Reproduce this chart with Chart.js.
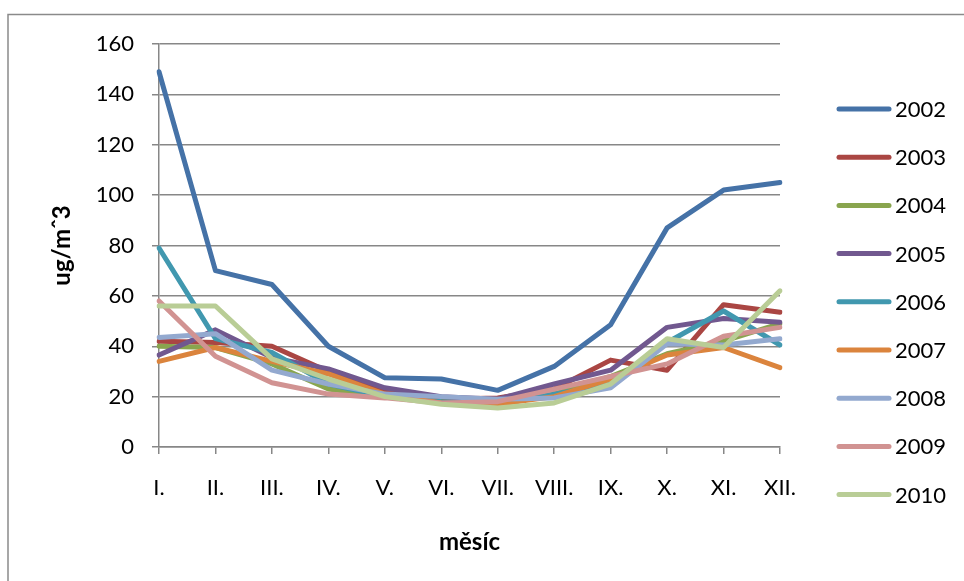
<!DOCTYPE html>
<html>
<head>
<meta charset="utf-8">
<script src="https://cdn.jsdelivr.net/npm/chart.js@4.4.1/dist/chart.umd.min.js"></script>
<style>
  html, body { margin: 0; padding: 0; background: #fff; }
  canvas { display: block; }
</style>
</head>
<body>
<canvas id="chart" width="964" height="581"></canvas>
<script>
var months = ["I.", "II.", "III.", "IV.", "V.", "VI.", "VII.", "VIII.", "IX.", "X.", "XI.", "XII."];
var years = ["2002", "2003", "2004", "2005", "2006", "2007", "2008", "2009", "2010"];

var y2002 = [149, 70, 64.5, 40, 27.5, 27, 22.5, 32, 48.5, 87, 102, 105];
var y2003 = [42, 41.5, 40, 30, 22, 19, 19.5, 23, 34.5, 30.5, 56.5, 53.5];
var y2004 = [40, 39.5, 33, 23, 20, 18, 17, 21, 28, 37, 42, 49];
var y2005 = [36.5, 46.5, 35.5, 31, 23.5, 20, 19, 25, 30.5, 47.5, 51, 49.5];
var y2006 = [79, 43, 37.5, 25, 20, 18, 17, 21, 25, 41.5, 54, 40.5];
var y2007 = [34, 39.5, 34, 29, 21, 17.5, 17, 20, 27, 36.5, 39.5, 31.5];
var y2008 = [43.5, 45, 30.5, 25, 21, 20, 19, 19.5, 23.5, 41, 40.5, 43];
var y2009 = [58, 36, 25.5, 21, 19.5, 17.5, 18, 23, 28, 33, 44, 47.5];
var y2010 = [56, 56, 35, 27, 20, 17, 15.5, 17.5, 25, 43, 39.5, 62];

var yTicks = [0, 20, 40, 60, 80, 100, 120, 140, 160];

var seriesValues = [y2002, y2003, y2004, y2005, y2006, y2007, y2008, y2009, y2010];
var colors = ["#4572A7", "#AA4643", "#89A54E", "#71588F", "#4198AF", "#DB843D", "#93A9CF", "#D19392", "#B9CD96"];

var gridGray = "#878787";
var font = "Lato";

// frame around the whole chart, like the Excel chart border
var framePlugin = {
  id: "frame",
  beforeDraw: function (chart) {
    var c = chart.ctx;
    c.save();
    c.fillStyle = "#fff";
    c.fillRect(0, 0, chart.width, chart.height);
    c.strokeStyle = "#8a8a8a";
    c.lineWidth = 1.5;
    c.strokeRect(8, 14.5, 1200, 1200);
    c.restore();
  }
};

// legend on the right: short thick lines with year labels
var legendPlugin = {
  id: "sideLegend",
  afterDraw: function (chart) {
    var c = chart.ctx;
    c.save();
    c.font = "22px " + font;
    c.textBaseline = "middle";
    c.textAlign = "left";
    chart.data.datasets.forEach(function (ds, i) {
      var y = 109 + 48.2 * i;
      c.strokeStyle = ds.borderColor;
      c.lineWidth = 5;
      c.lineCap = "round";
      c.beginPath();
      c.moveTo(839, y);
      c.lineTo(889, y);
      c.stroke();
      c.fillStyle = "#000";
      c.fillText(ds.label, 895, y + 1);
    });
    c.restore();
  }
};

var datasets = years.map(function (yr, i) {
  return {
    label: yr,
    data: seriesValues[i],
    borderColor: colors[i],
    backgroundColor: colors[i],
    borderWidth: 5,
    pointRadius: 0,
    pointHoverRadius: 0,
    tension: 0,
    borderCapStyle: "round",
    borderJoinStyle: "round",
    fill: false,
    order: years.length - i
  };
});

var ctx = document.getElementById("chart");

var pmChart = new Chart(ctx, {
  type: "line",
  data: {
    labels: months,
    datasets: datasets
  },
  options: {
    responsive: false,
    animation: false,
    devicePixelRatio: 1,
    layout: {
      padding: { left: 44, right: 184, top: 44, bottom: 20 }
    },
    plugins: {
      legend: { display: false },
      tooltip: { enabled: false }
    },
    scales: {
      x: {
        offset: false,
        grid: {
          drawOnChartArea: false,
          drawTicks: true,
          tickLength: 7,
          color: gridGray,
          lineWidth: 1.5
        },
        border: { color: gridGray, width: 1.5 },
        ticks: {
          color: "#000",
          padding: 21,
          maxRotation: 0,
          autoSkip: false,
          font: { family: font, size: 22 }
        },
        title: {
          display: true,
          text: "měsíc",
          color: "#000",
          font: { family: font, size: 24, weight: "bold" }
        },
        afterFit: function (scale) { scale.height = 114; }
      },
      y: {
        min: 0,
        max: 160,
        afterBuildTicks: function (scale) {
          scale.ticks = yTicks.map(function (v) { return { value: v }; });
        },
        grid: {
          drawTicks: true,
          tickLength: 7,
          color: gridGray,
          lineWidth: 1.5
        },
        border: { color: gridGray, width: 1.5 },
        ticks: {
          color: "#000",
          padding: 18,
          font: { family: font, size: 22 }
        },
        title: {
          display: true,
          text: "ug/mˆ3",
          color: "#000",
          font: { family: font, size: 24, weight: "bold" }
        },
        afterFit: function (scale) { scale.width = 115; }
      }
    }
  },
  plugins: [framePlugin, legendPlugin]
});
</script>
</body>
</html>
